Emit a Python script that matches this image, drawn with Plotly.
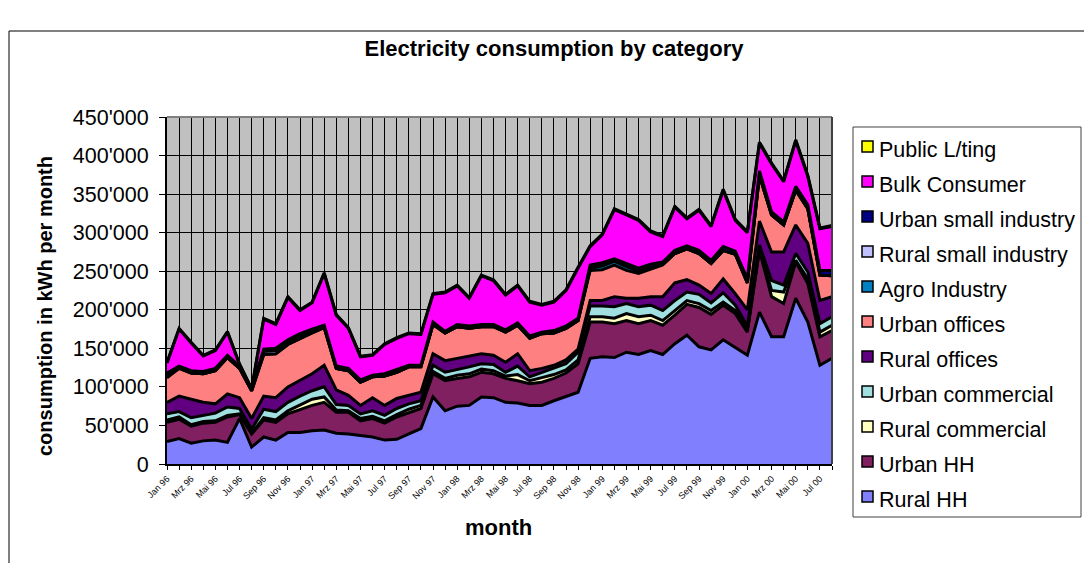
import plotly.graph_objects as go

# Monthly categories, Jan 1996 - Aug 2000 (German month abbreviations)
months = [
    "Jan 96", "Feb 96", "Mrz 96", "Apr 96", "Mai 96", "Jun 96", "Jul 96", "Aug 96", "Sep 96", "Okt 96", "Nov 96", "Dez 96",
    "Jan 97", "Feb 97", "Mrz 97", "Apr 97", "Mai 97", "Jun 97", "Jul 97", "Aug 97", "Sep 97", "Okt 97", "Nov 97", "Dez 97",
    "Jan 98", "Feb 98", "Mrz 98", "Apr 98", "Mai 98", "Jun 98", "Jul 98", "Aug 98", "Sep 98", "Okt 98", "Nov 98", "Dez 98",
    "Jan 99", "Feb 99", "Mrz 99", "Apr 99", "Mai 99", "Jun 99", "Jul 99", "Aug 99", "Sep 99", "Okt 99", "Nov 99", "Dez 99",
    "Jan 00", "Feb 00", "Mrz 00", "Apr 00", "Mai 00", "Jun 00", "Jul 00", "Aug 00",
]

# Labelled ticks (every second month)
tick_labels = [
    "Jan 96", "Mrz 96", "Mai 96", "Jul 96", "Sep 96", "Nov 96",
    "Jan 97", "Mrz 97", "Mai 97", "Jul 97", "Sep 97", "Nov 97",
    "Jan 98", "Mrz 98", "Mai 98", "Jul 98", "Sep 98", "Nov 98",
    "Jan 99", "Mrz 99", "Mai 99", "Jul 99", "Sep 99", "Nov 99",
    "Jan 00", "Mrz 00", "Mai 00", "Jul 00",
]

# Consumption per category in kWh per month
rural_hh = [29000, 33000, 27000, 30000, 31000, 28000, 59000, 22000, 35000, 31000, 41000, 41000,
            43000, 44000, 40000, 39000, 37000, 35000, 31000, 32000, 39000, 46000, 87000, 69000,
            75000, 76000, 87000, 86000, 80000, 79000, 76000, 76000, 82000, 87000, 93000, 137000,
            139000, 138000, 145000, 142000, 147000, 142000, 156000, 167000, 152000, 148000, 161000, 151000,
            141000, 197000, 165000, 165000, 215000, 184000, 128000, 137000]
urban_hh = [25000, 25000, 22000, 23000, 23000, 33000, 5000, 17000, 22000, 23000, 24000, 30000,
            33000, 36000, 27000, 28000, 19000, 24000, 22000, 29000, 28000, 26000, 30000, 39000,
            36000, 37000, 32000, 31000, 31000, 29000, 28000, 30000, 29000, 31000, 37000, 47000,
            45000, 44000, 41000, 40000, 39000, 38000, 37000, 40000, 51000, 46000, 45000, 44000,
            30000, 80000, 52000, 43000, 47000, 50000, 37000, 36000]
rural_commercial = [3000, 3000, 2000, 2000, 2000, 2000, 1000, 1000, 3000, 3000, 4000, 6000,
                    8000, 7000, 3000, 2000, 3000, 3000, 3000, 3000, 4000, 4000, 3000, 3000,
                    4000, 4000, 4000, 4000, 3000, 8000, 4000, 6000, 5000, 4000, 5000, 7000,
                    7000, 7000, 9000, 9000, 7000, 6000, 6000, 5000, 5000, 5000, 4000, 4000,
                    3000, 2000, 8000, 15000, 2000, 6000, 6000, 7000]
urban_commercial = [8000, 7000, 9000, 8000, 10000, 11000, 7000, 5000, 11000, 11000, 11000, 11000,
                    11000, 13000, 7000, 7000, 6000, 7000, 7000, 8000, 7000, 6000, 8000, 8000,
                    7000, 9000, 7000, 8000, 5000, 11000, 5000, 7000, 8000, 8000, 10000, 14000,
                    14000, 15000, 13000, 13000, 13000, 13000, 13000, 11000, 12000, 10000, 12000, 7000,
                    5000, 5000, 13000, 9000, 9000, 9000, 11000, 11000]
rural_offices = [15000, 20000, 24000, 17000, 12000, 17000, 14000, 14000, 17000, 18000, 20000, 20000,
                 22000, 28000, 19000, 13000, 11000, 17000, 13000, 13000, 11000, 11000, 15000, 15000,
                 15000, 14000, 13000, 12000, 13000, 16000, 8000, 5000, 4000, 5000, 4000, 7000,
                 7000, 13000, 7000, 11000, 11000, 18000, 23000, 16000, 12000, 12000, 18000, 15000,
                 21000, 31000, 37000, 43000, 37000, 37000, 30000, 26000]
urban_offices = [32000, 36000, 34000, 37000, 43000, 47000, 38000, 36000, 54000, 57000, 55000, 55000,
                 53000, 49000, 28000, 32000, 30000, 27000, 38000, 34000, 37000, 33000, 38000, 36000,
                 41000, 36000, 35000, 37000, 39000, 37000, 42000, 45000, 42000, 41000, 37000, 39000,
                 40000, 41000, 36000, 32000, 36000, 41000, 38000, 40000, 41000, 39000, 37000, 51000,
                 35000, 59000, 48000, 35000, 45000, 45000, 33000, 27000]
agro_industry = [0, 0, 0, 0, 0, 0, 0, 0, 0, 0, 0, 0,
                 0, 0, 0, 0, 0, 0, 0, 0, 0, 0, 0, 0,
                 0, 0, 0, 0, 0, 0, 0, 0, 0, 0, 0, 3000,
                 5000, 5000, 5000, 3000, 2000, 1000, 0, 0, 0, 0, 0, 0,
                 0, 0, 0, 0, 0, 0, 0, 0]
rural_small_industry = [3000, 1000, 0, 0, 0, 0, 0, 0, 4000, 4000, 3000, 3000,
                        2000, 1000, 0, 0, 0, 0, 0, 0, 0, 0, 0, 0,
                        0, 0, 0, 0, 0, 0, 0, 0, 0, 0, 0, 0,
                        0, 0, 0, 0, 0, 0, 0, 0, 0, 0, 0, 0,
                        0, 0, 0, 0, 0, 0, 0, 0]
urban_small_industry = [3000, 2000, 3000, 3000, 3000, 3000, 3000, 2000, 3000, 3000, 3000, 3000,
                        3000, 2000, 3000, 3000, 3000, 2000, 3000, 3000, 2000, 2000, 3000, 2000,
                        3000, 3000, 3000, 3000, 3000, 3000, 3000, 2000, 3000, 3000, 3000, 4000,
                        4000, 3000, 4000, 4000, 4000, 3000, 4000, 4000, 4000, 4000, 5000, 4000,
                        5000, 6000, 4000, 4000, 5000, 5000, 6000, 7000]
bulk_consumer = [13000, 48000, 36000, 20000, 23000, 30000, 2000, 0, 39000, 31000, 55000, 30000,
                 34000, 67000, 66000, 52000, 30000, 26000, 38000, 41000, 41000, 40000, 36000, 50000,
                 50000, 36000, 63000, 57000, 45000, 48000, 44000, 35000, 37000, 46000, 65000, 24000,
                 36000, 64000, 63000, 62000, 42000, 33000, 56000, 35000, 52000, 44000, 73000, 40000,
                 60000, 36000, 62000, 52000, 59000, 37000, 54000, 57000]
public_lighting = [800, 900, 800, 800, 900, 900, 700, 600, 900, 900, 1000, 900,
                   900, 1000, 900, 800, 800, 800, 800, 900, 900, 900, 1000, 1000,
                   1000, 1000, 1000, 1000, 1000, 1000, 1000, 1000, 1000, 1000, 1100, 1100,
                   1100, 1200, 1200, 1200, 1200, 1100, 1200, 1200, 1200, 1200, 1300, 1200,
                   1200, 1400, 1300, 1300, 1400, 1300, 1200, 1200]

# Stacking order bottom -> top: (name, values, fill colour)
series = [
    ("Rural HH", rural_hh, "#8080FF"),
    ("Urban HH", urban_hh, "#802060"),
    ("Rural commercial", rural_commercial, "#FFFFC0"),
    ("Urban commercial", urban_commercial, "#A0E0E0"),
    ("Rural offices", rural_offices, "#600080"),
    ("Urban offices", urban_offices, "#FF8080"),
    ("Agro Industry", agro_industry, "#0080C0"),
    ("Rural small industry", rural_small_industry, "#C0C0FF"),
    ("Urban small industry", urban_small_industry, "#000080"),
    ("Bulk Consumer", bulk_consumer, "#FF00FF"),
    ("Public L/ting", public_lighting, "#FFFF00"),
]

FONT = "Liberation Sans, Arial, sans-serif"

# Plot-area geometry in pixels, used to place decorations in paper coordinates
L, T, W, H = 167, 117, 665, 347
FIG_W, FIG_H = 1084, 563


def px(x):
    return (x - L) / W


def py(y):
    return 1 - (y - T) / H


fig = go.Figure()
for name, vals, col in series:
    fig.add_trace(go.Scatter(
        x=months, y=vals, name=name, mode="lines",
        stackgroup="total", fillcolor=col,
        line=dict(color="black", width=3),
        showlegend=False,
    ))

tick_text = [m if m in tick_labels else "" for m in months]

fig.update_layout(
    width=FIG_W, height=FIG_H,
    margin=dict(l=L, r=FIG_W - L - W, t=T, b=FIG_H - T - H),
    paper_bgcolor="white", plot_bgcolor="#C0C0C0",
    separators=".'",
    font=dict(family=FONT, color="black"),
    title=dict(text="<b>Electricity consumption by category</b>",
               x=554 / FIG_W, xanchor="center", y=1 - 48 / FIG_H, yanchor="middle",
               font=dict(size=22, family=FONT)),
    xaxis=dict(
        type="category", categoryorder="array", categoryarray=months,
        range=[0, len(months) - 1],
        tickmode="array", tickvals=months, ticktext=tick_text,
        tickangle=-45, tickfont=dict(size=9, family=FONT),
        ticks="outside", ticklen=4, tickcolor="black", tickwidth=1,
        showgrid=True, gridcolor="black", gridwidth=1,
        showline=True, linecolor="black", linewidth=2,
        zeroline=False,
    ),
    yaxis=dict(
        range=[0, 450000], dtick=50000, tickformat=",d",
        tickfont=dict(size=21.5, family=FONT),
        ticks="outside", ticklen=6, tickcolor="black", tickwidth=1,
        ticklabelstandoff=6,
        showgrid=True, gridcolor="black", gridwidth=1,
        showline=True, linecolor="black", linewidth=2,
        zeroline=False,
    ),
)

shapes = []
annotations = []

# Plot-area frame (top and right edges)
shapes.append(dict(type="line", xref="paper", yref="paper", x0=0, x1=1, y0=1, y1=1,
                   line=dict(color="#808080", width=2), layer="above"))
shapes.append(dict(type="line", xref="paper", yref="paper", x0=1, x1=1, y0=0, y1=1,
                   line=dict(color="#404040", width=2), layer="above"))

# Chart-area border
shapes.append(dict(type="line", xref="paper", yref="paper", x0=px(9), x1=px(1090), y0=py(31), y1=py(31),
                   line=dict(color="black", width=1)))
shapes.append(dict(type="line", xref="paper", yref="paper", x0=px(9), x1=px(9), y0=py(31), y1=py(570),
                   line=dict(color="black", width=1)))

# Axis titles
annotations.append(dict(text="<b>consumption in kWh per month</b>", xref="paper", yref="paper",
                        x=px(45), y=py(306), textangle=-90, showarrow=False,
                        xanchor="center", yanchor="middle", font=dict(size=20, family=FONT)))
annotations.append(dict(text="<b>month</b>", xref="paper", yref="paper",
                        x=px(498), y=py(527), showarrow=False,
                        xanchor="center", yanchor="middle", font=dict(size=22, family=FONT)))

# Legend box with entries listed top -> bottom
shapes.append(dict(type="rect", xref="paper", yref="paper", x0=px(853), x1=px(1081), y0=py(127), y1=py(517),
                   line=dict(color="#404040", width=1), fillcolor="white"))
top_y, step = 146.5, 35.0
for k, (name, vals, col) in enumerate(reversed(series)):
    cy = top_y + k * step
    shapes.append(dict(type="rect", xref="paper", yref="paper",
                       x0=px(862), x1=px(873), y0=py(cy - 5.5), y1=py(cy + 5.5),
                       line=dict(color="black", width=1.5), fillcolor=col))
    annotations.append(dict(text=name, xref="paper", yref="paper",
                            x=px(877), y=py(cy + 3.5), showarrow=False,
                            xanchor="left", yanchor="middle", font=dict(size=21.5, family=FONT)))

fig.update_layout(shapes=shapes, annotations=annotations)

fig.write_html("out.html")
